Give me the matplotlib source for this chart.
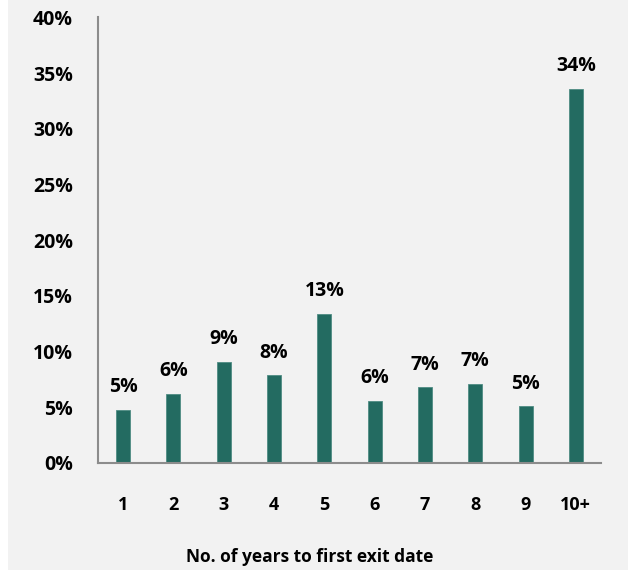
import matplotlib
matplotlib.use('Agg')
import matplotlib.pyplot as plt
from matplotlib.patches import Rectangle

plt.rcParams['font.family'] = ['Open Sans', 'DejaVu Sans']
plt.rcParams['font.weight'] = 'bold'

categories = ['1', '2', '3', '4', '5', '6', '7', '8', '9', '10+']
shares = [4.8, 6.2, 9.1, 7.9, 13.4, 5.6, 6.8, 7.1, 5.1, 33.6]
labels = ['5%', '6%', '9%', '8%', '13%', '6%', '7%', '7%', '5%', '34%']
yticks = [0, 5, 10, 15, 20, 25, 30, 35, 40]

bar_color = '#236b61'
bg = '#f2f2f2'

fig = plt.figure(figsize=(6.28, 5.70), dpi=100, facecolor='white')
fig.patches.append(Rectangle((8 / 628, 0), 1, 1, transform=fig.transFigure,
                             facecolor=bg, edgecolor='none', zorder=-10))

ax = fig.add_axes([98 / 628, 1 - 463 / 570, 503 / 628, 445.5 / 570])
ax.set_facecolor(bg)

x = list(range(len(categories)))
ax.bar(x, shares, width=0.28, color=bar_color, edgecolor='#4f8c83', linewidth=0.6)

for xi, v, lab in zip(x, shares, labels):
    ax.annotate(lab, (xi, v), xytext=(0, 9), textcoords='offset points',
                ha='center', va='bottom', fontsize=14, fontweight='bold')

ax.set_xlim(-0.5, 9.5)
ax.set_ylim(0, 40)
ax.set_xticks(x)
ax.set_xticklabels(categories)
ax.set_yticks(yticks)
ax.set_yticklabels([f'{t}%' for t in yticks])
ax.tick_params(axis='both', length=0, labelsize=14)
ax.tick_params(axis='x', pad=24, labelsize=13)
ax.tick_params(axis='y', pad=18)

for s in ['top', 'right']:
    ax.spines[s].set_visible(False)
for s in ['left', 'bottom']:
    ax.spines[s].set_color('#8c8c8c')
    ax.spines[s].set_linewidth(1.5)

fig.text(310 / 628, 1 - 557 / 570, 'No. of years to first exit date',
         ha='center', va='center', fontsize=12.5, fontweight='bold')

fig.savefig('out.png', dpi=100, facecolor=fig.get_facecolor())
